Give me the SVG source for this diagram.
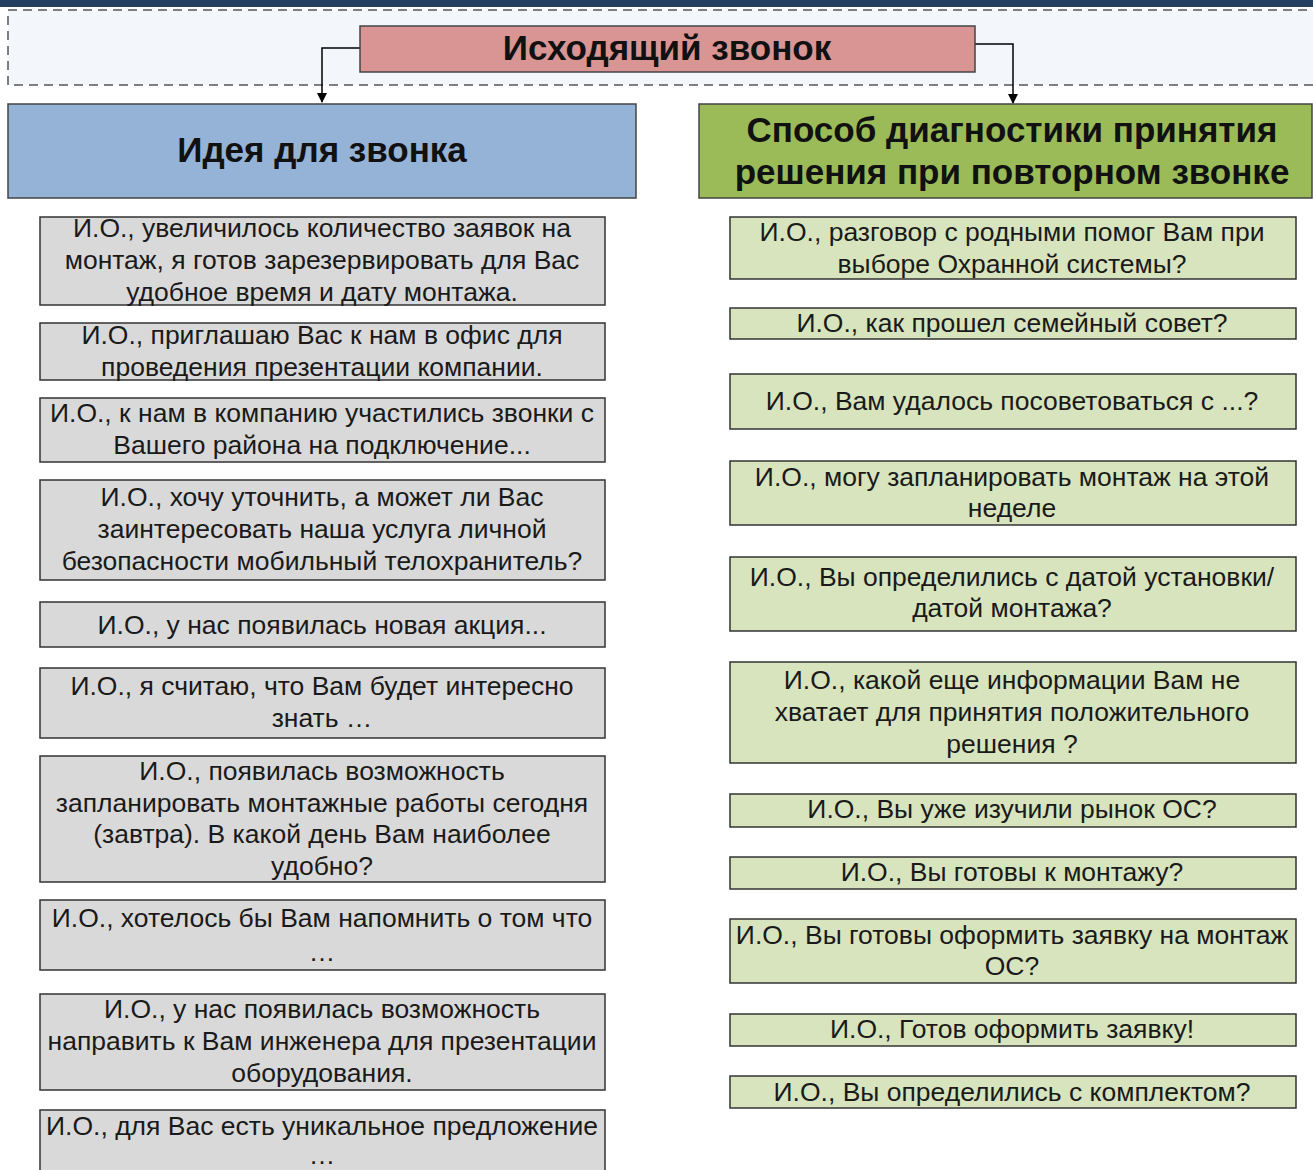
<svg xmlns="http://www.w3.org/2000/svg" width="1313" height="1170" viewBox="0 0 1313 1170">
<defs>
<marker id="arr" viewBox="0 0 10 10" refX="9" refY="5" markerWidth="10" markerHeight="10" markerUnits="userSpaceOnUse" orient="auto"><path d="M0,0 L10,5 L0,10 z" fill="#000"/></marker>
<style>
.t{font-family:"Liberation Sans",Arial,sans-serif;font-size:26.5px;fill:#1a1a1a;text-anchor:middle}
.h{font-family:"Liberation Sans",Arial,sans-serif;font-size:35px;font-weight:bold;fill:#111;text-anchor:middle}
.g{fill:#d9d9d9;stroke:#333;stroke-width:1.5}
.lg{fill:#d7e4bd;stroke:#333;stroke-width:1.5}
.c{fill:none;stroke:#000;stroke-width:1.5}
</style>
</defs>
<rect x="0" y="0" width="1313" height="1170" fill="#fff"/>
<rect x="0" y="0" width="1313" height="7" fill="#243f60"/>
<rect x="8" y="10" width="1320" height="75" fill="#f3f7fb" stroke="#555" stroke-width="1.5" stroke-dasharray="9,6"/>
<g id="connectors">
<path class="c" d="M360,48 H322 V102" marker-end="url(#arr)"/>
<path class="c" d="M975,44 H1013 V103" marker-end="url(#arr)"/>
</g>
<g id="n-call"><rect x="360" y="26" width="615" height="46" fill="#d99594" stroke="#444" stroke-width="1.5"/><text class="h" x="667" y="60">Исходящий звонок</text></g>
<g id="n-idea"><rect x="8" y="104" width="628" height="94" fill="#95b3d7" stroke="#444" stroke-width="1.5"/><text class="h" x="322" y="162">Идея для звонка</text></g>
<g id="n-diag"><rect x="699" y="104" width="613" height="94" fill="#9bbb59" stroke="#444" stroke-width="1.5"/><text class="h" x="1012" y="142">Способ диагностики принятия</text><text class="h" x="1012" y="184">решения при повторном звонке</text></g>
<g id="l1"><rect class="g" x="40" y="217" width="565" height="88"/><text class="t" x="322" y="237">И.О., увеличилось количество заявок на</text><text class="t" x="322" y="269">монтаж, я готов зарезервировать для Вас</text><text class="t" x="322" y="301">удобное время и дату монтажа.</text></g>
<g id="l2"><rect class="g" x="40" y="323" width="565" height="57"/><text class="t" x="322" y="344">И.О., приглашаю Вас к нам в офис для</text><text class="t" x="322" y="376">проведения презентации компании.</text></g>
<g id="l3"><rect class="g" x="40" y="398" width="565" height="64"/><text class="t" x="322" y="422">И.О., к нам в компанию участились звонки с</text><text class="t" x="322" y="454">Вашего района на подключение...</text></g>
<g id="l4"><rect class="g" x="40" y="480" width="565" height="100"/><text class="t" x="322" y="506">И.О., хочу уточнить, а может ли Вас</text><text class="t" x="322" y="538">заинтересовать наша услуга личной</text><text class="t" x="322" y="570">безопасности мобильный телохранитель?</text></g>
<g id="l5"><rect class="g" x="40" y="602" width="565" height="45"/><text class="t" x="322" y="634">И.О., у нас появилась новая акция...</text></g>
<g id="l6"><rect class="g" x="40" y="668" width="565" height="70"/><text class="t" x="322" y="695">И.О., я считаю, что Вам будет интересно</text><text class="t" x="322" y="727">знать …</text></g>
<g id="l7"><rect class="g" x="40" y="756" width="565" height="126"/><text class="t" x="322" y="780">И.О., появилась возможность</text><text class="t" x="322" y="812">запланировать монтажные работы сегодня</text><text class="t" x="322" y="843">(завтра). В какой день Вам наиболее</text><text class="t" x="322" y="875">удобно?</text></g>
<g id="l8"><rect class="g" x="40" y="900" width="565" height="70"/><text class="t" x="322" y="927">И.О., хотелось бы Вам напомнить о том что</text><text class="t" x="322" y="961">…</text></g>
<g id="l9"><rect class="g" x="40" y="994" width="565" height="96"/><text class="t" x="322" y="1018">И.О., у нас появилась возможность</text><text class="t" x="322" y="1050">направить к Вам инженера для презентации</text><text class="t" x="322" y="1082">оборудования.</text></g>
<g id="l10"><rect class="g" x="40" y="1110" width="565" height="80"/><text class="t" x="322" y="1135">И.О., для Вас есть уникальное предложение</text><text class="t" x="322" y="1164">…</text></g>
<g id="r1"><rect class="lg" x="730" y="217" width="566" height="62"/><text class="t" x="1012" y="241">И.О., разговор с родными помог Вам при</text><text class="t" x="1012" y="273">выборе Охранной системы?</text></g>
<g id="r2"><rect class="lg" x="730" y="308" width="566" height="31"/><text class="t" x="1012" y="332">И.О., как прошел семейный совет?</text></g>
<g id="r3"><rect class="lg" x="730" y="374" width="566" height="55"/><text class="t" x="1012" y="410">И.О., Вам удалось посоветоваться с ...?</text></g>
<g id="r4"><rect class="lg" x="730" y="461" width="566" height="64"/><text class="t" x="1012" y="486">И.О., могу запланировать монтаж на этой</text><text class="t" x="1012" y="517">неделе</text></g>
<g id="r5"><rect class="lg" x="730" y="557" width="566" height="74"/><text class="t" x="1012" y="586">И.О., Вы определились с датой установки/</text><text class="t" x="1012" y="617">датой монтажа?</text></g>
<g id="r6"><rect class="lg" x="730" y="662" width="566" height="101"/><text class="t" x="1012" y="689">И.О., какой еще информации Вам не</text><text class="t" x="1012" y="721">хватает для принятия положительного</text><text class="t" x="1012" y="753">решения ?</text></g>
<g id="r7"><rect class="lg" x="730" y="794" width="566" height="33"/><text class="t" x="1012" y="818">И.О., Вы уже изучили рынок ОС?</text></g>
<g id="r8"><rect class="lg" x="730" y="857" width="566" height="32"/><text class="t" x="1012" y="881">И.О., Вы готовы к монтажу?</text></g>
<g id="r9"><rect class="lg" x="730" y="919" width="566" height="64"/><text class="t" x="1012" y="944">И.О., Вы готовы оформить заявку на монтаж</text><text class="t" x="1012" y="975">ОС?</text></g>
<g id="r10"><rect class="lg" x="730" y="1014" width="566" height="32"/><text class="t" x="1012" y="1038">И.О., Готов оформить заявку!</text></g>
<g id="r11"><rect class="lg" x="730" y="1076" width="566" height="32"/><text class="t" x="1012" y="1101">И.О., Вы определились с комплектом?</text></g>
</svg>
